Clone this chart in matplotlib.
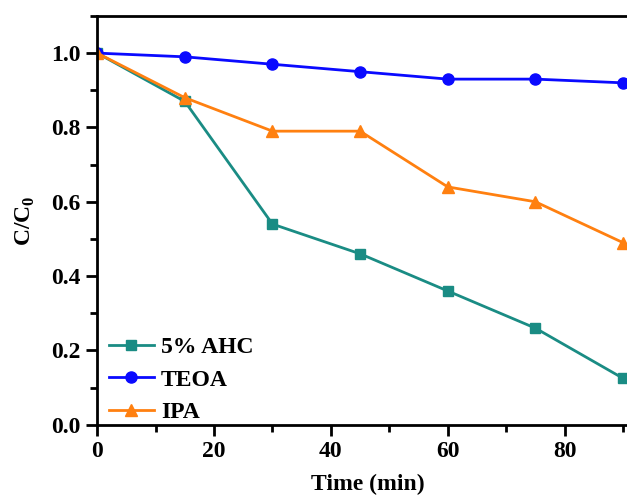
import matplotlib

matplotlib.use("Agg")

import matplotlib.pyplot as plt
from matplotlib.ticker import MultipleLocator, FormatStrFormatter

time_min = [0, 15, 30, 45, 60, 75, 90]
ahc = [1.0, 0.87, 0.54, 0.46, 0.36, 0.26, 0.125]
teoa = [1.0, 0.99, 0.97, 0.95, 0.93, 0.93, 0.92]
ipa = [1.0, 0.88, 0.79, 0.79, 0.64, 0.60, 0.49]
x_ticks = [0, 20, 40, 60, 80]

plt.rcParams["font.family"] = ["Liberation Serif", "DejaVu Serif"]
plt.rcParams["font.weight"] = "bold"
plt.rcParams["mathtext.fontset"] = "custom"
plt.rcParams["mathtext.rm"] = "Liberation Serif:bold"
plt.rcParams["mathtext.bf"] = "Liberation Serif:bold"

fig = plt.figure(figsize=(6.27, 4.98), dpi=100)
# the source image is cropped on the right, so the right spine sits just past the edge
ax = fig.add_axes([0.155, 0.147, 0.862, 0.821])

ax.plot(time_min, ahc, color="#1a8c84", marker="s", markersize=7, lw=2, label="5% AHC")
ax.plot(time_min, teoa, color="#0a0aff", marker="o", markersize=8, lw=2, label="TEOA")
ax.plot(time_min, ipa, color="#ff8010", marker="^", markersize=8, lw=2, label="IPA")

ax.set_xlim(0, 92.5)
ax.set_ylim(0, 1.1)
ax.set_xticks(x_ticks)
ax.xaxis.set_minor_locator(MultipleLocator(10))
ax.yaxis.set_major_locator(MultipleLocator(0.2))
ax.yaxis.set_minor_locator(MultipleLocator(0.1))
ax.yaxis.set_major_formatter(FormatStrFormatter("%.1f"))

for spine in ax.spines.values():
    spine.set_linewidth(2)
ax.tick_params(which="major", direction="out", length=8, width=2, labelsize=17, pad=4)
ax.tick_params(which="minor", direction="out", length=5, width=2)

ax.set_xlabel("Time (min)", fontsize=17, fontweight="bold", labelpad=8)
ax.set_ylabel("C/C$_\\mathrm{0}$", fontsize=17, fontweight="bold", labelpad=10)

ax.legend(loc="lower left", bbox_to_anchor=(0.0, -0.024), frameon=False, fontsize=17,
          handlelength=1.9, handletextpad=0.3, labelspacing=0.45, borderaxespad=0.1)

fig.savefig("out.png", dpi=100)
